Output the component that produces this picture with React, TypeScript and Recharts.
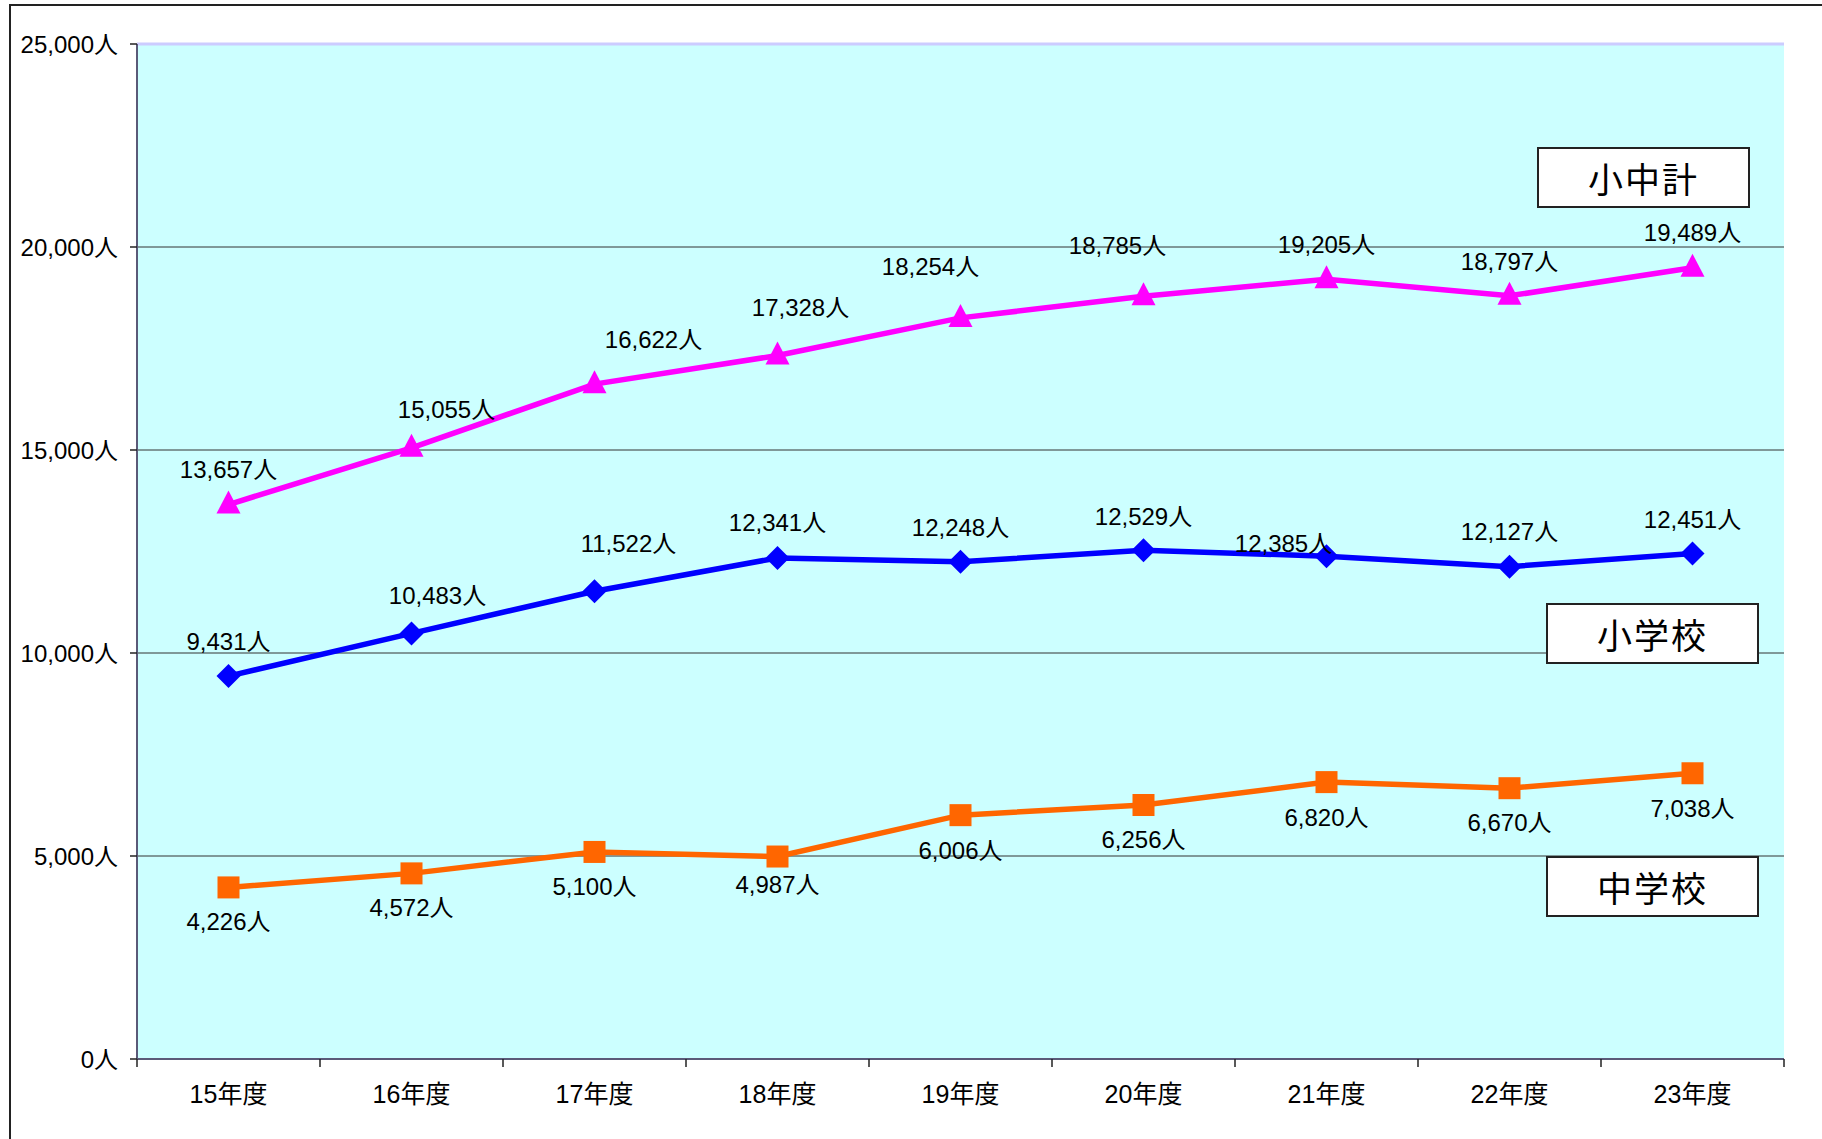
import React from "react"
import {
  LineChart,
  Line,
  XAxis,
  YAxis,
  CartesianGrid,
  ReferenceLine,
  LabelList,
} from "recharts"

const categories = ["15年度", "16年度", "17年度", "18年度", "19年度", "20年度", "21年度", "22年度", "23年度"]
const totalValues = [13657, 15055, 16622, 17328, 18254, 18785, 19205, 18797, 19489]
const elementaryValues = [9431, 10483, 11522, 12341, 12248, 12529, 12385, 12127, 12451]
const juniorValues = [4226, 4572, 5100, 4987, 6006, 6256, 6820, 6670, 7038]
const yTicks = [0, 5000, 10000, 15000, 20000, 25000]

// label nudges (px), the original labels were dragged around by hand
const totalLabelDx = [0, 35, 59, 23, -30, -26, 0, 0, 0]
const totalLabelDy = [-35, -38, -45, -48, -51, -51, -35, -34, -35]
const elemLabelDx = [0, 26, 34, 0, 0, 0, -43, 0, 0]
const elemLabelDy = [-35, -38, -48, -35, -34, -34, -13, -35, -34]
const juniorLabelDy = [34, 34, 35, 28, 35, 34, 35, 34, 35]

const W = 1822
const H = 1139
const PLOT_LEFT = 137
const PLOT_RIGHT = 1784
const PLOT_TOP = 44
const PLOT_BOTTOM = 1059
const BAND = (PLOT_RIGHT - PLOT_LEFT) / categories.length

const FONT = '"Liberation Sans", Arial, "Noto Sans CJK JP", sans-serif'

const data = categories.map((name, i) => ({
  name,
  total: totalValues[i],
  elementary: elementaryValues[i],
  junior: juniorValues[i],
}))

const fmt = (v: number) => v.toLocaleString("en-US") + "人"

const Triangle = (props: any) => {
  const { cx, cy } = props
  if (cx == null || cy == null) return null
  return <polygon points={`${cx},${cy - 14} ${cx - 12},${cy + 9} ${cx + 12},${cy + 9}`} fill="#FF00FF" />
}

const Diamond = (props: any) => {
  const { cx, cy } = props
  if (cx == null || cy == null) return null
  return <polygon points={`${cx},${cy - 12} ${cx + 12},${cy} ${cx},${cy + 12} ${cx - 12},${cy}`} fill="#0000FF" />
}

const Square = (props: any) => {
  const { cx, cy } = props
  if (cx == null || cy == null) return null
  return <rect x={cx - 11} y={cy - 11} width={22} height={22} fill="#FF6600" />
}

const makeLabel = (dxs: number[] | null, dys: number[]) => (props: any) => {
  const { x, y, value, index } = props
  return (
    <text
      x={x + (dxs ? dxs[index] : 0)}
      y={y + dys[index]}
      textAnchor="middle"
      dominantBaseline="central"
      fontSize={24}
      fontFamily={FONT}
      fill="#000"
    >
      {fmt(value)}
    </text>
  )
}

const XTick = (props: any) => {
  const { x, payload, index } = props
  return (
    <g>
      <line x1={x - BAND / 2} x2={x - BAND / 2} y1={PLOT_BOTTOM} y2={PLOT_BOTTOM + 8} stroke="#222" strokeWidth={1.5} />
      {index === categories.length - 1 && (
        <line x1={x + BAND / 2} x2={x + BAND / 2} y1={PLOT_BOTTOM} y2={PLOT_BOTTOM + 8} stroke="#222" strokeWidth={1.5} />
      )}
      <text x={x} y={PLOT_BOTTOM + 35} textAnchor="middle" dominantBaseline="central" fontSize={25} fontFamily={FONT} fill="#000">
        {payload.value}
      </text>
    </g>
  )
}

const boxStyle = (left: number, top: number, width: number, height: number): React.CSSProperties => ({
  position: "absolute",
  left,
  top,
  width,
  height,
  background: "#fff",
  border: "2px solid #222",
  boxSizing: "border-box",
  display: "flex",
  alignItems: "center",
  justifyContent: "center",
  fontFamily: '"Noto Sans CJK JP", sans-serif',
  fontSize: 35,
  letterSpacing: 2,
  color: "#000",
})

export default function App() {
  return (
    <div style={{ position: "absolute", left: 0, top: 0, width: W, height: H, background: "#fff", overflow: "hidden" }}>
      <div style={{ position: "absolute", left: 9, top: 4, width: W, height: H, borderLeft: "2px solid #222", borderTop: "2px solid #222" }} />
      <LineChart
        width={W}
        height={H}
        data={data}
        margin={{ top: PLOT_TOP, right: W - PLOT_RIGHT, bottom: 0, left: 0 }}
        style={{ position: "absolute", left: 0, top: 0 }}
      >
        <CartesianGrid vertical={false} stroke="#333" strokeWidth={1} fill="#CCFFFF" />
        <XAxis
          dataKey="name"
          padding={{ left: BAND / 2, right: BAND / 2 }}
          height={H - PLOT_BOTTOM}
          axisLine={{ stroke: "#5a5a78", strokeWidth: 2 }}
          tickLine={false}
          tick={<XTick />}
          interval={0}
        />
        <YAxis
          width={PLOT_LEFT}
          domain={[0, 25000]}
          ticks={yTicks}
          tickFormatter={fmt}
          axisLine={{ stroke: "#5a5a78", strokeWidth: 2 }}
          tickLine={{ stroke: "#222", strokeWidth: 1.5 }}
          tickSize={7}
          tickMargin={12}
          tick={{ fontSize: 24, fontFamily: FONT, fill: "#000" }}
        />
        <YAxis
          yAxisId="r"
          orientation="right"
          width={0}
          domain={[0, 25000]}
          tick={false}
          tickLine={false}
          axisLine={{ stroke: "#CCCCFF", strokeWidth: 3 }}
        />
        <ReferenceLine y={25000} stroke="#CCCCFF" strokeWidth={3} />
        <Line dataKey="total" stroke="#FF00FF" strokeWidth={5.5} dot={<Triangle />} activeDot={false} isAnimationActive={false}>
          <LabelList dataKey="total" content={makeLabel(totalLabelDx, totalLabelDy)} />
        </Line>
        <Line dataKey="elementary" stroke="#0000FF" strokeWidth={5.5} dot={<Diamond />} activeDot={false} isAnimationActive={false}>
          <LabelList dataKey="elementary" content={makeLabel(elemLabelDx, elemLabelDy)} />
        </Line>
        <Line dataKey="junior" stroke="#FF6600" strokeWidth={5.5} dot={<Square />} activeDot={false} isAnimationActive={false}>
          <LabelList dataKey="junior" content={makeLabel(null, juniorLabelDy)} />
        </Line>
      </LineChart>
      <div style={boxStyle(1537, 147, 213, 61)}>小中計</div>
      <div style={boxStyle(1546, 603, 213, 61)}>小学校</div>
      <div style={boxStyle(1546, 856, 213, 61)}>中学校</div>
    </div>
  )
}
